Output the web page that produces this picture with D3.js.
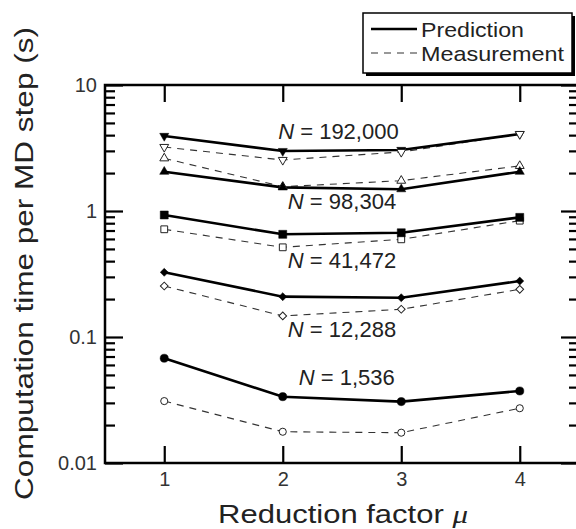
<!DOCTYPE html>
<html>
<head>
<meta charset="utf-8">
<script src="https://cdn.jsdelivr.net/npm/d3@7"></script>
<style>
  html, body { margin: 0; padding: 0; background: #fff; }
  svg { display: block; font-family: "Liberation Sans", Arial, Helvetica, sans-serif; }
</style>
</head>
<body>
<svg id="chart" width="576" height="529"></svg>
<script>
// ---------- data ----------
const mu = [1, 2, 3, 4];
const xTicks = [1, 2, 3, 4];
const yMajorTicks = [0.01, 0.1, 1, 10];
const yTickLabels = ["0.01", "0.1", "1", "10"];

const sizes = ["192,000", "98,304", "41,472", "12,288", "1,536"];
const markerShapes = ["triangleDown", "triangleUp", "square", "diamond", "circle"];
const measurementOnTop = [true, false, false, false, false];

const pred192000 = [3.94, 2.99, 3.05, 4.08];
const meas192000 = [3.22, 2.54, 2.94, 4.08];
const pred98304  = [2.05, 1.54, 1.49, 2.05];
const meas98304  = [2.62, 1.56, 1.74, 2.28];
const pred41472  = [0.93, 0.653, 0.672, 0.89];
const meas41472  = [0.716, 0.515, 0.596, 0.838];
const pred12288  = [0.326, 0.209, 0.205, 0.278];
const meas12288  = [0.254, 0.147, 0.166, 0.239];
const pred1536   = [0.0678, 0.0336, 0.0307, 0.0373];
const meas1536   = [0.031, 0.0177, 0.0174, 0.0272];

const predictions = [pred192000, pred98304, pred41472, pred12288, pred1536];
const measurements = [meas192000, meas98304, meas41472, meas12288, meas1536];

// label anchors in data units (mu, time)
const labelMu   = [2.47, 2.5, 2.5, 2.5, 2.54];
const labelTime = [3.73, 1.04, 0.353, 0.1, 0.0416];

const legendLabels = ["Prediction", "Measurement"];

// ---------- layout ----------
const svg = d3.select("#chart");
const L = 105, R = 579, T = 85, B = 463;
const x = d3.scaleLinear().domain([0.5, 4.5]).range([L, R]);
const y = d3.scaleLog().domain([0.01, 10]).range([B, T]);

const yMinor = [];
for (let e = -2; e < 1; e++) for (let k = 2; k <= 9; k++) yMinor.push(k * Math.pow(10, e));

function styleAxis(g, fontSize) {
  g.select(".domain").remove();
  g.selectAll(".tick line").attr("stroke", "#000").attr("stroke-width", 2.2);
  g.selectAll("text").attr("font-size", fontSize).attr("fill", "#333")
    .attr("font-family", '"Liberation Sans", Arial, sans-serif');
}

svg.append("g").attr("transform", `translate(0,${B})`)
  .call(d3.axisBottom(x).tickValues(xTicks).tickSize(-17).tickPadding(9).tickFormat(d3.format("d")))
  .call(g => styleAxis(g, 20));
svg.append("g").attr("transform", `translate(0,${T})`)
  .call(d3.axisTop(x).tickValues(xTicks).tickSize(-17).tickFormat(""))
  .call(g => styleAxis(g, 20));
svg.append("g").attr("transform", `translate(${L},0)`)
  .call(d3.axisLeft(y).tickValues(yMajorTicks).tickSize(-18).tickPadding(8)
    .tickFormat(d => yTickLabels[yMajorTicks.indexOf(d)]))
  .call(g => styleAxis(g, 20));
svg.append("g").attr("transform", `translate(${L},0)`)
  .call(d3.axisLeft(y).tickValues(yMinor).tickSize(-10).tickFormat(""))
  .call(g => styleAxis(g, 20));
svg.append("g").attr("transform", `translate(${R},0)`)
  .call(d3.axisRight(y).tickValues(yMajorTicks).tickSize(-18).tickFormat(""))
  .call(g => styleAxis(g, 20));
svg.append("g").attr("transform", `translate(${R},0)`)
  .call(d3.axisRight(y).tickValues(yMinor).tickSize(-10).tickFormat(""))
  .call(g => styleAxis(g, 20));

svg.append("rect").attr("x", L).attr("y", T).attr("width", R - L).attr("height", B - T)
  .attr("fill", "none").attr("stroke", "#000").attr("stroke-width", 2.5);

// ---------- lines ----------
const line = d3.line().x(d => x(d[0])).y(d => y(d[1]));

const symbolTypes = {
  triangleDown: { type: d3.symbolTriangle, rot: 180, filled: 36, open: 34 },
  triangleUp:   { type: d3.symbolTriangle, rot: 0,   filled: 36, open: 34 },
  square:       { type: d3.symbolSquare,   rot: 0,   filled: 64, open: 46 },
  diamond:      { type: d3.symbolSquare,   rot: 45,  filled: 32, open: 30 },
  circle:       { type: d3.symbolCircle,   rot: 0,   filled: 52, open: 40 }
};

const plot = svg.append("g");

measurements.forEach(vals => {
  const pts = mu.map((m, j) => [m, vals[j]]);
  plot.append("path").attr("d", line(pts)).attr("fill", "none")
    .attr("stroke", "#333").attr("stroke-width", 1.1).attr("stroke-dasharray", "7,6");
});
predictions.forEach(vals => {
  const pts = mu.map((m, j) => [m, vals[j]]);
  plot.append("path").attr("d", line(pts)).attr("fill", "none")
    .attr("stroke", "#000").attr("stroke-width", 2.6);
});

function drawMarkers(vals, shape, filled) {
  const st = symbolTypes[shape];
  const sym = d3.symbol().type(st.type).size(filled ? st.filled : st.open);
  mu.forEach((m, j) => {
    plot.append("path").attr("d", sym())
      .attr("transform", `translate(${x(m)},${y(vals[j])}) rotate(${st.rot})`)
      .attr("fill", filled ? "#000" : "#fff")
      .attr("stroke", filled ? "#000" : "#222")
      .attr("stroke-width", filled ? 0.5 : 1);
  });
}
sizes.forEach((s, i) => {
  if (measurementOnTop[i]) {
    drawMarkers(predictions[i], markerShapes[i], true);
    drawMarkers(measurements[i], markerShapes[i], false);
  } else {
    drawMarkers(measurements[i], markerShapes[i], false);
    drawMarkers(predictions[i], markerShapes[i], true);
  }
});

// ---------- N labels ----------
sizes.forEach((s, i) => {
  const t = svg.append("text").attr("x", x(labelMu[i])).attr("y", y(labelTime[i]))
    .attr("text-anchor", "middle").attr("font-size", 22).attr("fill", "#222");
  t.append("tspan").attr("font-style", "italic").text("N");
  t.append("tspan").text(" = " + s);
});

// ---------- axis titles ----------
function fitText(sel, cx, by, target, rot) {
  const w = sel.node().getComputedTextLength();
  const s = target / w;
  sel.attr("transform", `translate(${cx},${by}) rotate(${rot || 0}) scale(${s},1)`);
}

const xt = svg.append("text").attr("text-anchor", "middle").attr("font-size", 25).attr("fill", "#222");
xt.append("tspan").text("Reduction factor ");
xt.append("tspan").attr("font-family", '"Liberation Serif", "Times New Roman", serif')
  .attr("font-style", "italic").text("μ");
fitText(xt, 343, 523, 250, 0);

const yt = svg.append("text").attr("text-anchor", "middle").attr("font-size", 25).attr("fill", "#222")
  .text("Computation time per MD step (s)");
fitText(yt, 33, 263.5, 473, -90);

// ---------- legend ----------
const lg = svg.append("g");
lg.append("rect").attr("x", 366).attr("y", 16).attr("width", 209).attr("height", 60).attr("fill", "#000");
lg.append("rect").attr("x", 363).attr("y", 13).attr("width", 209).attr("height", 60)
  .attr("fill", "#fff").attr("stroke", "#000").attr("stroke-width", 1.5);
const legendStyles = [
  { stroke: "#000", width: 2.6, dash: null, ty: 29 },
  { stroke: "#333", width: 1.1, dash: "7,6", ty: 53 }
];
const legendTextWidths = [103, 143];
legendLabels.forEach((lab, i) => {
  const st = legendStyles[i];
  lg.append("line").attr("x1", 371).attr("x2", 417).attr("y1", st.ty).attr("y2", st.ty)
    .attr("stroke", st.stroke).attr("stroke-width", st.width).attr("stroke-dasharray", st.dash);
  const t = lg.append("text").attr("font-size", 21).attr("fill", "#222").text(lab);
  const w = t.node().getComputedTextLength();
  t.attr("transform", `translate(421,${st.ty + 8}) scale(${legendTextWidths[i] / w},1)`);
});
</script>
</body>
</html>
